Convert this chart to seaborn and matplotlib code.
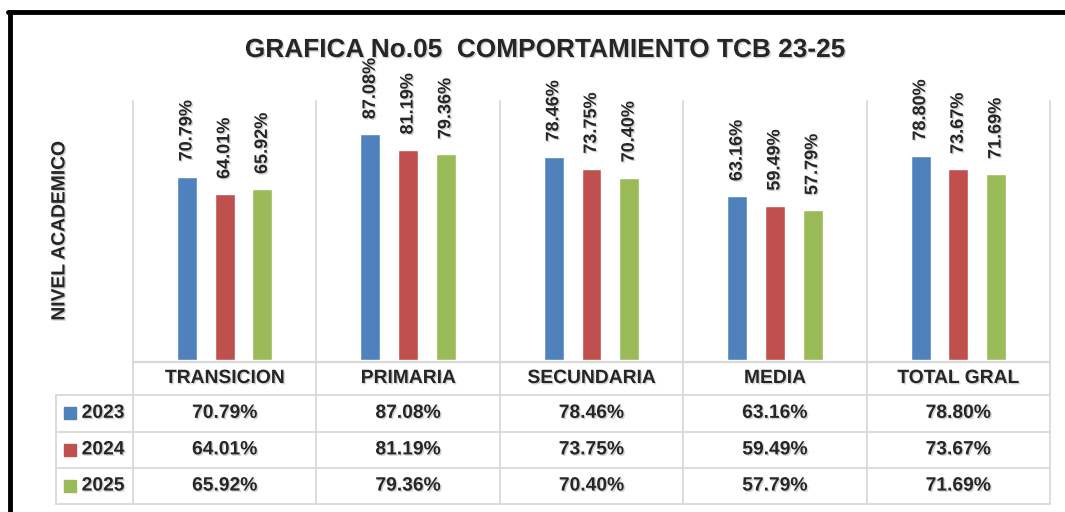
import matplotlib
matplotlib.use('Agg')
import matplotlib.pyplot as plt
import matplotlib.patheffects as pe
from matplotlib.font_manager import fontManager
import pandas as pd
import seaborn as sns

# datos
niveles = ['TRANSICION', 'PRIMARIA', 'SECUNDARIA', 'MEDIA', 'TOTAL GRAL']
anios = ['2023', '2024', '2025']
v2023 = [70.79, 87.08, 78.46, 63.16, 78.80]
v2024 = [64.01, 81.19, 73.75, 59.49, 73.67]
v2025 = [65.92, 79.36, 70.40, 57.79, 71.69]
colores = ['#4F81BD', '#C0504D', '#9BBB59']

valores = [v2023, v2024, v2025]
df = pd.DataFrame({
    'nivel': niveles * 3,
    'anio': [a for a in anios for _ in niveles],
    'valor': v2023 + v2024 + v2025,
})

sns.set_style('white')
disponibles = {f.name for f in fontManager.ttflist}
narrow = 'Liberation Sans Narrow' in disponibles
fam = 'Liberation Sans Narrow' if narrow else 'Liberation Sans'
k = 1.0 if narrow else 0.84   # sin fuente estrecha se reduce el tamaño
plt.rcParams['font.family'] = [fam, 'DejaVu Sans']
plt.rcParams['font.weight'] = 'bold'

sombra = [pe.withSimplePatchShadow(offset=(1, -1), shadow_rgbFace='#808080', alpha=0.35)]

W, H = 1065, 512
fig = plt.figure(figsize=(W / 100, H / 100), dpi=100)
ax = fig.add_axes([133 / W, 1 - 360 / H, (1050 - 133) / W, (360 - 101) / H])

sns.barplot(data=df, x='nivel', y='valor', hue='anio', palette=colores,
            width=0.617, gap=0.47, saturation=1, legend=False, ax=ax)

ax.set_xlim(-0.5, 4.5)
ax.set_ylim(0, 100)
ax.set_xticks([])
ax.set_yticks([])
ax.set_xlabel('')
ax.set_ylabel('')
for s in ax.spines.values():
    s.set_visible(False)

# etiquetas de datos
for cont, vals in zip(ax.containers, valores):
    ax.bar_label(cont, labels=[f'{v:.2f}%' for v in vals], rotation=90,
                 padding=11, fontsize=15.5 * k, fontweight='bold', path_effects=sombra)

# tabla de datos
gris = '#D9D9D9'
x_izq = -0.92
filas = [-0.8, -13.5, -27.7, -41.7, -55.6]
for i in range(6):
    ax.plot([i - 0.5, i - 0.5], [100, filas[-1]], color=gris, lw=1.3, clip_on=False)
ax.plot([x_izq, x_izq], [filas[1], filas[-1]], color=gris, lw=1.3, clip_on=False)
ax.plot([-0.5, 4.5], [filas[0], filas[0]], color=gris, lw=1.6, clip_on=False)
for y in filas[1:]:
    ax.plot([x_izq, 4.5], [y, y], color=gris, lw=1.3, clip_on=False)

y_enc = (filas[0] + filas[1]) / 2
for i, n in enumerate(niveles):
    ax.text(i, y_enc, n, ha='center', va='center', fontsize=16.5 * k,
            fontweight='bold', path_effects=sombra)

for r, (anio, vals, col) in enumerate(zip(anios, valores, colores)):
    yc = (filas[r + 1] + filas[r + 2]) / 2
    ax.scatter([-0.841], [yc], marker='s', s=85, color=col, clip_on=False, zorder=3)
    ax.text(-0.78, yc, anio, ha='left', va='center', fontsize=16.5 * k,
            fontweight='bold', path_effects=sombra)
    for i, v in enumerate(vals):
        ax.text(i, yc, f'{v:.2f}%', ha='center', va='center', fontsize=16.5 * k,
                fontweight='bold', path_effects=sombra)

# titulo y eje
fig.text(545 / W, 1 - 50 / H, 'GRAFICA No.05  COMPORTAMIENTO TCB 23-25',
         ha='center', va='center', fontsize=22.5 * k, fontweight='bold', path_effects=sombra)
fig.text(60 / W, 1 - 231 / H, 'NIVEL ACADEMICO', rotation=90, ha='center',
         va='center', fontsize=16.5 * k, fontweight='bold', path_effects=sombra)

# marco
fig.add_artist(plt.Line2D([10 / W, 10 / W], [0, 1 - 12 / H], color='black', lw=3.5))
fig.add_artist(plt.Line2D([8 / W, 1], [1 - 12 / H, 1 - 12 / H], color='black', lw=3.5))

fig.savefig('out.png', dpi=100)
